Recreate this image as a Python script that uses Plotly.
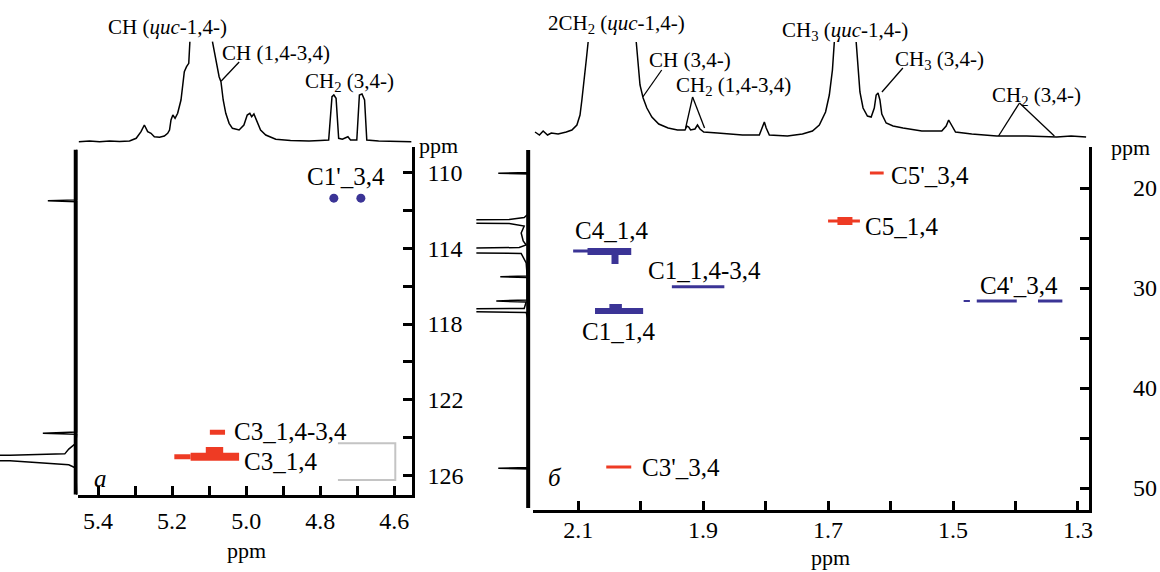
import plotly.graph_objects as go

# ---------------- data ----------------
# 1H projection, panel a (ppm, intensity a.u.); None = peak cut off at top
TOP_A = [(5.452, 0), (5.423, 0.7), (5.396, 0), (5.369, 0.7), (5.342, 0.2), (5.315, 0.7),
         (5.297, 3.4), (5.284, 10), (5.275, 16.7), (5.266, 10), (5.257, 8.4), (5.248, 5),
         (5.234, 4.4), (5.221, 5.7), (5.212, 8.4), (5.207, 11.7), (5.203, 21.7), (5.198, 26.7),
         (5.192, 23.4), (5.185, 28.4), (5.176, 41.7), (5.167, 70), (5.161, 75), (5.155, 78.4),
         (5.152, 100), (None, None), (5.091, 100), (5.082, 83.4), (5.073, 65), (5.068, 60),
         (5.062, 41.7), (5.055, 28.4), (5.046, 18.4), (5.037, 13.4), (5.019, 11.7), (5.006, 16.7),
         (4.997, 26.7), (4.990, 28.4), (4.985, 25), (4.979, 27.7), (4.972, 21.7), (4.961, 11.7),
         (4.947, 6.7), (4.920, 2.4), (4.880, 1.2), (4.830, 0.7), (4.800, 1.2), (4.777, 1.7),
         (4.768, 45), (4.763, 46.7), (4.757, 43.4), (4.750, 3.4), (4.740, 2.4), (4.732, 3.4),
         (4.725, 5), (4.718, 1.7), (4.701, 1.7), (4.694, 46.7), (4.687, 47.7), (4.680, 41.7),
         (4.674, 1.7), (4.642, 0.7), (4.600, 0.3), (4.553, 0)]

# 1H projection, panel b
TOP_B = [(2.169, 4), (2.162, 1), (2.156, 5), (2.149, 1), (2.143, 3), (2.132, 2), (2.119, 4),
         (2.110, 6), (2.102, 11), (2.097, 21), (2.094, 36), (2.090, 56), (2.087, 76), (2.084, 94),
         (None, None), (2.007, 94), (2.004, 71), (2.001, 51), (1.996, 38), (1.990, 28), (1.982, 19),
         (1.971, 12), (1.956, 8), (1.941, 6), (1.929, 6), (1.926, 10), (1.923, 9), (1.920, 6),
         (1.913, 7), (1.909, 11), (1.905, 7), (1.899, 4), (1.877, 3), (1.837, 1), (1.810, 1),
         (1.805, 8), (1.802, 14), (1.799, 8), (1.794, 1), (1.765, 0), (1.741, 2), (1.725, 5),
         (1.714, 11), (1.704, 24), (1.698, 41), (1.693, 66), (1.690, 94), (None, None),
         (1.655, 94), (1.652, 66), (1.649, 44), (1.644, 28), (1.637, 20), (1.631, 19), (1.626, 28),
         (1.623, 41), (1.620, 43), (1.617, 36), (1.614, 22), (1.607, 13), (1.596, 10), (1.580, 8),
         (1.550, 5), (1.518, 5), (1.511, 10), (1.507, 16), (1.502, 10), (1.496, 4), (1.470, 2),
         (1.430, 0), (1.382, 0), (1.334, -1), (1.311, 0), (1.287, -1)]

# 13C projections (ppm, intensity a.u.)
SIDE_A = [(108.8, 0), (111.45, 0), (111.5, 29), (111.55, 0), (123.70, 0), (123.76, 34),
          (123.82, 0), (124.3, 1), (124.6, 8), (124.85, 12), (124.92, 67), (124.93, 100),
          (None, None), (125.20, 100), (125.21, 67), (125.43, 8), (125.6, 1), (127.0, 0)]
SIDE_B = [(16.2, 0), (18.45, 0), (18.53, 31), (18.6, 0), (22.6, 1), (22.95, 5), (23.15, 20),
          (23.2, 70), (None, None), (23.5, 70), (23.55, 20), (23.8, 5), (24.5, 8), (25.3, 6),
          (25.7, 3), (25.95, 10), (26.03, 70), (None, None), (26.47, 70), (26.55, 8), (27.5, 3),
          (28.8, 2), (28.87, 29), (28.94, 2), (31.2, 2), (31.3, 33), (31.4, 3), (32.05, 5),
          (32.1, 70), (None, None), (32.35, 70), (32.45, 3), (33.5, 0), (47.95, 0), (48.03, 31),
          (48.1, 0), (52.0, 0)]

# cross-peak contour pieces: (H0, H1, C0, C1)
CROSS_A_RED = [(5.194, 5.15, 125.0, 125.0), (5.15, 5.019, 125.0, 125.0),
               (5.109, 5.062, 124.65, 124.65), (5.098, 5.057, 123.71, 123.71)]
CROSS_A_BLUE_H = [4.763, 4.690]
CROSS_A_BLUE_C = [111.36, 111.36]
CROSS_B_RED = [(1.633, 1.611, 18.5, 18.5), (1.70, 1.649, 23.3, 23.3), (1.685, 1.661, 23.3, 23.3),
               (2.055, 2.015, 47.9, 47.9)]
CROSS_B_BLUE = [(2.108, 2.02, 26.3, 26.3), (2.085, 2.015, 26.35, 26.35), (2.041, 2.041, 26.35, 27.6),
                (1.95, 1.866, 29.87, 29.87), (2.073, 1.996, 32.3, 32.3), (2.05, 2.03, 31.9, 31.9),
                (1.483, 1.473, 31.3, 31.3), (1.462, 1.398, 31.3, 31.3), (1.364, 1.325, 31.3, 31.3)]
W_A_RED = [5, 8, 6, 5]
W_B_RED = [3, 3, 8, 3]
W_B_BLUE = [3, 7, 7, 3, 6, 6, 2, 3, 3]

LABELS_A = [("C1'_3,4", 4.731, 110.2, "center"), ("C3_1,4-3,4", 5.038, 123.67, "left"),
            ("C3_1,4", 5.011, 125.26, "left")]
LABELS_B = [("C5'_3,4", 1.603, 18.7, "left"), ("C5_1,4", 1.644, 23.8, "left"),
            ("C4_1,4", 2.047, 24.2, "center"), ("C1_1,4-3,4", 1.991, 28.2, "left"),
            ("C1_1,4", 2.035, 34.37, "center"), ("C4'_3,4", 1.394, 29.7, "center"),
            ("C3'_3,4", 2.001, 47.9, "left")]

X_TICKS_A = [5.4, 5.3, 5.2, 5.1, 5.0, 4.9, 4.8, 4.7, 4.6]
X_TEXT_A = ["5.4", "", "5.2", "", "5.0", "", "4.8", "", "4.6"]
Y_TICKS_A = [110, 112, 114, 116, 118, 120, 122, 124, 126]
Y_TEXT_A = ["110", "", "114", "", "118", "", "122", "", "126"]
X_TICKS_B = [2.1, 2.0, 1.9, 1.8, 1.7, 1.6, 1.5, 1.4, 1.3]
X_TEXT_B = ["2.1", "", "1.9", "", "1.7", "", "1.5", "", "1.3"]
Y_TICKS_B = [20, 25, 30, 35, 40, 45, 50]
Y_TEXT_B = ["20", "", "30", "", "40", "", "50"]

RED = "#ee3b24"
BLUE = "#3b3496"
FONT = "Liberation Serif, Times New Roman, DejaVu Serif, serif"
W, H = 1160, 572


def fx(p):
    return p / W


def fy(p):
    return 1 - p / H


fig = go.Figure()


def unzip(pairs):
    return [p[0] for p in pairs], [p[1] for p in pairs]


def line(x, y, xa, ya, color="black", width=1.5):
    fig.add_trace(go.Scatter(x=x, y=y, mode="lines", xaxis=xa, yaxis=ya,
                             line=dict(color=color, width=width), hoverinfo="skip",
                             connectgaps=False))


# projections
x, y = unzip(TOP_A)
line(x, y, "x2", "y2")
x, y = unzip(TOP_B)
line(x, y, "x5", "y5")
c, v = unzip(SIDE_A)
line([1, 1], [108.8, 127.0], "x3", "y3", width=4)
line(v, c, "x3", "y3")
c, v = unzip(SIDE_B)
line([1, 1], [16.2, 52.0], "x6", "y6", width=4)
line(v, c, "x6", "y6")

# cross peaks
for (h0, h1, c0, c1), w in zip(CROSS_A_RED, W_A_RED):
    line([h0, h1], [c0, c1], "x", "y", RED, w)
fig.add_trace(go.Scatter(x=CROSS_A_BLUE_H, y=CROSS_A_BLUE_C, mode="markers", xaxis="x", yaxis="y",
                         marker=dict(color=BLUE, size=9), hoverinfo="skip"))
for (h0, h1, c0, c1), w in zip(CROSS_B_RED, W_B_RED):
    line([h0, h1], [c0, c1], "x4", "y4", RED, w)
for (h0, h1, c0, c1), w in zip(CROSS_B_BLUE, W_B_BLUE):
    line([h0, h1], [c0, c1], "x4", "y4", BLUE, w)

ann = []


def text(t, X, Y, size, xanchor="center", xref="paper", yref="paper"):
    ann.append(dict(text=t, x=X, y=Y, xref=xref, yref=yref, xanchor=xanchor, yanchor="middle",
                    showarrow=False, font=dict(size=size, family=FONT, color="black")))


for t, h, cc, anc in LABELS_A:
    text(t, h, cc, 25, anc, "x", "y")
for t, h, cc, anc in LABELS_B:
    text(t, h, cc, 25, anc, "x4", "y4")

# labels of the 1H projections (pixel positions)
TOP_LABELS = [("CH (<i>цис</i>-1,4-)", 168, 27), ("CH (1,4-3,4)", 277, 53),
              ("CH<sub>2</sub> (3,4-)", 351, 82),
              ("2CH<sub>2</sub> (<i>цис</i>-1,4-)", 619, 24), ("CH (3,4-)", 692, 60),
              ("CH<sub>2</sub> (1,4-3,4)", 736, 86), ("CH<sub>3</sub> (<i>цис</i>-1,4-)", 848, 31),
              ("CH<sub>3</sub> (3,4-)", 943, 60), ("CH<sub>2</sub> (3,4-)", 1040, 96)]
for t, X, Y in TOP_LABELS:
    text(t, fx(X), fy(Y), 21)

for t, X, Y in [("ppm", 440, 145), ("ppm", 1134, 147), ("ppm", 247, 550), ("ppm", 833, 557)]:
    text(t, fx(X), fy(Y), 22)
text("<i>а</i>", fx(101), fy(478), 25)
text("<i>б</i>", fx(557), fy(477), 25)

shapes = []
# leader lines (pixel positions)
LEADERS = [(240, 62, 222, 81), (664, 70, 645, 97), (695, 97, 688, 128), (695, 97, 707, 128),
           (906, 68, 885, 92), (1023, 103, 1002, 136), (1023, 103, 1058, 136)]
for x0, y0, x1, y1 in LEADERS:
    shapes.append(dict(type="line", xref="paper", yref="paper", x0=fx(x0), y0=fy(y0),
                       x1=fx(x1), y1=fy(y1), line=dict(color="black", width=1.3)))
BRACKET = [4.752, 4.597, 124.29, 126.23]
shapes.append(dict(type="path", xref="x", yref="y",
                   path=f"M {BRACKET[0]},{BRACKET[2]} L {BRACKET[1]},{BRACKET[2]} "
                        f"L {BRACKET[1]},{BRACKET[3]} L {BRACKET[0]},{BRACKET[3]}",
                   line=dict(color="#c4c4c4", width=2)))

ax_common = dict(showline=True, linecolor="black", linewidth=3, ticks="inside", ticklen=9,
                 tickwidth=2.5, tickcolor="black", showgrid=False, zeroline=False,
                 tickfont=dict(size=24, family=FONT, color="black"))
hidden = dict(visible=False, showgrid=False, zeroline=False)

fig.update_layout(
    width=W, height=H, margin=dict(l=0, r=0, t=0, b=0), showlegend=False,
    plot_bgcolor="white", paper_bgcolor="white",
    font=dict(family=FONT, color="black"),
    xaxis=dict(domain=[fx(78), fx(413)], range=[5.455, 4.553], anchor="y",
               tickmode="array", tickvals=X_TICKS_A, ticktext=X_TEXT_A,
               ticklabelstandoff=2, **ax_common),
    yaxis=dict(domain=[fy(495), fy(147)], range=[127.02, 108.66], anchor="x", side="right",
               tickmode="array", tickvals=Y_TICKS_A, ticktext=Y_TEXT_A,
               ticklabelstandoff=8, **ax_common),
    xaxis2=dict(domain=[fx(78), fx(413)], matches="x", anchor="y2", **hidden),
    yaxis2=dict(domain=[fy(147), 1], range=[-5.3, 141.7], anchor="x2", **hidden),
    xaxis3=dict(domain=[0, fx(78)], range=[77, -1], anchor="y3", **hidden),
    yaxis3=dict(domain=[fy(495), fy(147)], matches="y", anchor="x3", **hidden),
    xaxis4=dict(domain=[fx(535), fx(1093)], range=[2.172, 1.282], anchor="y4",
                tickmode="array", tickvals=X_TICKS_B, ticktext=X_TEXT_B,
                ticklabelstandoff=-4, **ax_common),
    yaxis4=dict(domain=[fy(510), fy(147)], range=[52.2, 15.9], anchor="x4", side="right",
                tickmode="array", tickvals=Y_TICKS_B, ticktext=Y_TEXT_B,
                ticklabelstandoff=36, **ax_common),
    xaxis5=dict(domain=[fx(535), fx(1093)], matches="x4", anchor="y5", **hidden),
    yaxis5=dict(domain=[fy(147), 1], range=[-11, 136], anchor="x5", **hidden),
    xaxis6=dict(domain=[fx(478), fx(535)], range=[53, -4], anchor="y6", **hidden),
    yaxis6=dict(domain=[fy(510), fy(147)], matches="y4", anchor="x6", **hidden),
    annotations=ann, shapes=shapes,
)

fig.write_html("out.html")
